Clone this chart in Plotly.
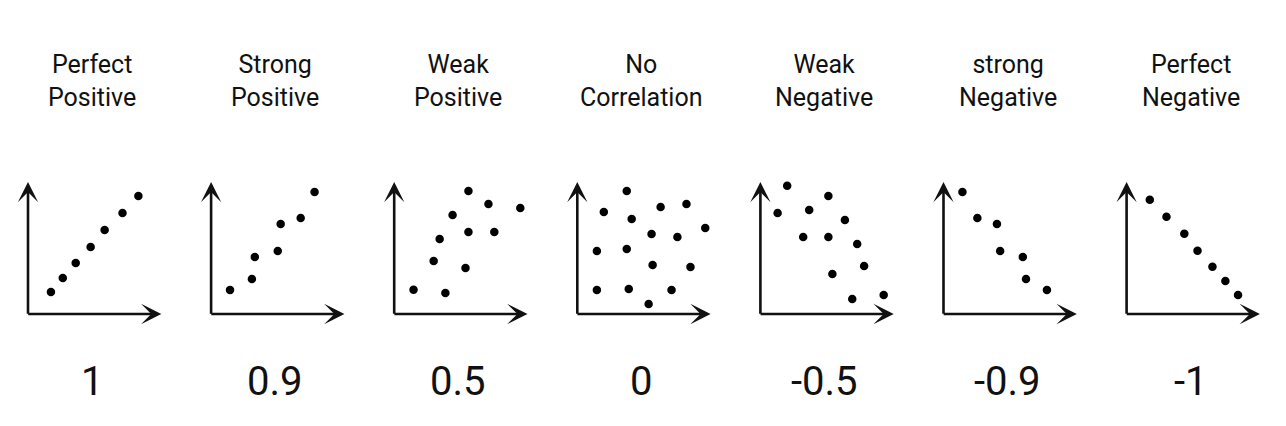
import plotly.graph_objects as go

W, H = 1286, 426

titles = ["Perfect<br>Positive", "Strong<br>Positive", "Weak<br>Positive", "No<br>Correlation",
          "Weak<br>Negative", "strong<br>Negative", "Perfect<br>Negative"]
coef_labels = ["1", "0.9", "0.5", "0", "-0.5", "-0.9", "-1"]

# scatter values per panel (axis units 0..10)
p1_x = [1.72, 2.61, 3.58, 4.70, 5.75, 7.09, 8.28]
p1_y = [1.67, 2.73, 3.86, 5.08, 6.36, 7.65, 8.94]

p2_x = [1.42, 3.06, 3.28, 5.00, 5.22, 6.72, 7.76]
p2_y = [1.82, 2.65, 4.32, 4.77, 6.82, 7.27, 9.24]

p3_x = [1.45, 3.84, 2.96, 5.35, 3.41, 4.38, 5.57, 5.57, 7.07, 7.51, 8.71, 9.46]
p3_y = [1.84, 1.59, 4.02, 3.48, 5.68, 7.50, 9.32, 6.21, 8.33, 6.21, 10.15, 8.03]

p4_x = [1.99, 3.71, 4.08, 6.25, 8.19, 9.60, 5.57, 7.51, 1.47, 3.71, 5.65, 8.49, 1.47, 3.86, 7.07, 5.35]
p4_y = [7.73, 9.32, 7.20, 8.11, 8.33, 6.52, 6.06, 5.83, 4.77, 4.92, 3.71, 3.56, 1.82, 1.89, 1.82, 0.76]

p5_x = [2.01, 1.29, 3.66, 5.10, 6.34, 3.21, 5.10, 7.26, 7.78, 5.40, 6.89, 9.25]
p5_y = [9.72, 7.65, 7.88, 8.94, 7.12, 5.83, 5.83, 5.30, 3.64, 3.03, 1.14, 1.44]

p6_x = [1.42, 2.54, 4.01, 4.25, 5.95, 6.19, 7.76]
p6_y = [9.24, 7.27, 6.82, 4.77, 4.32, 2.65, 1.82]

p7_x = [1.74, 2.99, 4.33, 5.32, 6.44, 7.41, 8.36]
p7_y = [8.66, 7.37, 6.08, 4.80, 3.58, 2.50, 1.44]

panels_x = [p1_x, p2_x, p3_x, p4_x, p5_x, p6_x, p7_x]
panels_y = [p1_y, p2_y, p3_y, p4_y, p5_y, p6_y, p7_y]

# layout geometry (pixels)
X0 = 28.0
PITCH = 183.1
AXW = 133.3
Y_AXIS_PX = 314.0
Y_TOP_PX = 182.0

INK = "#111111"
FONT = "Roboto"

fig = go.Figure()
annotations = []
layout_axes = {}

for i in range(7):
    n = i + 1
    left = X0 + PITCH * i
    xa = "xaxis" if n == 1 else f"xaxis{n}"
    ya = "yaxis" if n == 1 else f"yaxis{n}"
    xr = "x" if n == 1 else f"x{n}"
    yr = "y" if n == 1 else f"y{n}"
    layout_axes[xa] = dict(domain=[left / W, (left + AXW) / W], range=[0, 10],
                           visible=False, fixedrange=True, anchor=yr)
    layout_axes[ya] = dict(domain=[(H - Y_AXIS_PX) / H, (H - Y_TOP_PX) / H], range=[0, 10],
                           visible=False, fixedrange=True, anchor=xr)

    fig.add_trace(go.Scatter(x=panels_x[i], y=panels_y[i], mode="markers", xaxis=xr, yaxis=yr,
                             marker=dict(size=8.5, color="#000000"), cliponaxis=False,
                             showlegend=False, hoverinfo="skip"))

    # axis arrows
    annotations.append(dict(x=10, y=0, ax=-0.1, ay=0, xref=xr, yref=yr, axref=xr, ayref=yr,
                            text="", showarrow=True, arrowhead=3, arrowsize=1.3,
                            arrowwidth=2.6, arrowcolor=INK, standoff=0))
    annotations.append(dict(x=0, y=10, ax=0, ay=-0.1, xref=xr, yref=yr, axref=xr, ayref=yr,
                            text="", showarrow=True, arrowhead=3, arrowsize=1.3,
                            arrowwidth=2.6, arrowcolor=INK, standoff=0))

    cx = (left + 64) / W
    annotations.append(dict(x=cx, y=(H - 80.6) / H, xref="paper", yref="paper",
                            text=titles[i], showarrow=False, xanchor="center", yanchor="middle",
                            font=dict(family=FONT, size=25, color=INK)))
    annotations.append(dict(x=cx, y=(H - 381) / H, xref="paper", yref="paper",
                            text=coef_labels[i], showarrow=False, xanchor="center", yanchor="middle",
                            font=dict(family=FONT, size=40, color=INK)))

fig.update_layout(width=W, height=H, margin=dict(l=0, r=0, t=0, b=0),
                  paper_bgcolor="white", plot_bgcolor="white",
                  annotations=annotations, showlegend=False, **layout_axes)

fig.write_html("out.html", config={"displayModeBar": False},
               post_script="document.body.style.margin='0';document.body.style.overflow='hidden';")
